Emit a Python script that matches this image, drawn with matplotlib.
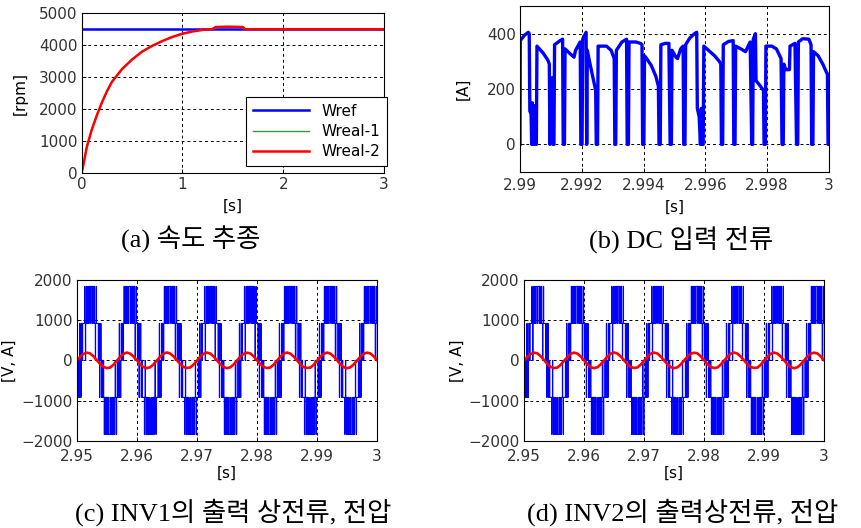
import numpy as np
import matplotlib.pyplot as plt

plt.rcParams['font.family'] = 'DejaVu Sans'

# ------------------------------------------------------------
# (a) speed tracking
# ------------------------------------------------------------
speed_t = [0, 0.02, 0.05, 0.1, 0.15, 0.2, 0.25, 0.3, 0.35, 0.4, 0.5, 0.6, 0.7,
           0.8, 0.9, 1.0, 1.1, 1.2, 1.3, 1.33, 1.45, 1.6, 1.62, 3.0]
speed_real = [0, 300, 800, 1350, 1800, 2200, 2550, 2850, 3050, 3250, 3550, 3800,
              3980, 4130, 4260, 4360, 4430, 4480, 4510, 4570, 4580, 4570, 4500, 4500]
ref_t = [0, 3]
speed_ref = [4500, 4500]

# ------------------------------------------------------------
# (b) DC input current, time in ms after 2.99 s
# ------------------------------------------------------------
dc_ms = [0.00, 0.01, 0.15, 0.27, 0.30, 0.32, 0.36, 0.38, 0.40, 0.43, 0.46, 0.50,
         0.53, 0.55, 0.75, 0.90, 0.95, 0.97, 1.00, 1.05, 1.07, 1.10, 1.12, 1.30,
         1.38, 1.40, 1.44, 1.46, 1.60, 1.75, 1.80, 1.95, 1.97, 2.01, 2.03, 2.14,
         2.16, 2.18, 2.25, 2.40, 2.45, 2.47, 2.51, 2.53, 2.80, 2.95, 3.05, 3.07,
         3.10, 3.12, 3.30, 3.45, 3.47, 3.51, 3.53, 3.75, 3.90, 3.95, 3.97, 4.01,
         4.03, 4.10, 4.25, 4.40, 4.48, 4.50, 4.54, 4.56, 4.70, 4.82, 4.86, 4.90,
         4.92, 5.05, 5.10, 5.20, 5.28, 5.30, 5.34, 5.36, 5.50, 5.65, 5.72, 5.74,
         5.80, 5.84, 5.87, 5.90, 5.93, 5.95, 6.10, 6.30, 6.45, 6.50, 6.52, 6.56,
         6.58, 6.75, 6.90, 6.92, 6.96, 6.98, 7.15, 7.30, 7.45, 7.50, 7.53, 7.55,
         7.62, 7.64, 7.75, 7.88, 7.90, 7.94, 7.96, 8.15, 8.30, 8.45, 8.48, 8.52,
         8.54, 8.60, 8.72, 8.74, 8.90, 8.95, 8.99, 9.01, 9.15, 9.35, 9.42, 9.44,
         9.48, 9.50, 9.65, 9.80, 9.92, 9.95, 9.97, 10.0]
dc_amp = [0, 375, 395, 405, 400, 120, 110, 0, 150, 0, 140, 0,
          0, 355, 330, 305, 290, 0, 240, 240, 0, 0, 360, 375,
          380, 0, 0, 345, 330, 315, 340, 370, 0, 0, 380, 405,
          0, 340, 300, 220, 195, 0, 0, 355, 355, 340, 310, 0,
          0, 340, 370, 380, 0, 0, 370, 370, 365, 360, 0, 0,
          320, 310, 285, 245, 210, 0, 0, 360, 365, 365, 0, 0,
          340, 315, 310, 345, 355, 0, 0, 360, 385, 400, 405, 130,
          100, 0, 130, 0, 0, 355, 340, 320, 300, 290, 0, 0,
          360, 372, 375, 0, 0, 355, 345, 335, 370, 0, 0, 380,
          400, 230, 215, 195, 0, 0, 355, 355, 345, 310, 0, 0,
          290, 270, 270, 355, 365, 0, 0, 370, 382, 380, 360, 0,
          0, 335, 320, 290, 260, 255, 0, 0]

# ------------------------------------------------------------
# (c), (d) inverter phase current and line voltage
# ------------------------------------------------------------
cur_t = np.linspace(2.95, 3.0, 91)
phase_cur = [-10, 88, 162, 193, 175, 105, 10, -88, -160, -190, -178, -108,
             -12, 85, 163, 196, 170, 100, 5, -93, -168, -192, -170, -100,
             -5, 93, 168, 198, 172, 102, 8, -90, -163, -188, -175, -105,
             -10, 90, 166, 195, 173, 100, 6, -92, -165, -193, -172, -102,
             -6, 92, 165, 192, 176, 104, 9, -89, -162, -190, -176, -106,
             -9, 89, 167, 197, 170, 99, 4, -94, -166, -185, -180, -110,
             -11, 87, 164, 196, 171, 101, 7, -91, -167, -194, -171, -101,
             -4, 94, 166, 194, 174, 103, 8]

# centres of the voltage half-cycles and their polarity
half_centers = [2.94900, 2.95230, 2.95560, 2.95890, 2.96225, 2.96560, 2.96895, 2.97225,
                2.97560, 2.97890, 2.98225, 2.98560, 2.98890, 2.99225, 2.99560, 2.99890]
half_signs = [-1, 1, -1, 1, -1, 1, -1, 1, -1, 1, -1, 1, -1, 1, -1, 1]
# which switching pattern each half-cycle shows, INV1 and INV2
half_pattern_1 = [0, 0, 1, 1, 0, 1, 0, 0, 1, 0, 1, 1, 0, 1, 0, 1]
half_pattern_2 = [1, 0, 0, 1, 1, 0, 1, 0, 0, 1, 1, 0, 1, 0, 1, 1]

# switching patterns of one half-cycle: offset from centre [ms], level step
pulse_ms_a = [-1.665, -1.62, -1.58, -1.52, -1.35, -1.31, -0.98, -0.94, -0.85, -0.81,
              -0.70, -0.64, -0.48, -0.40, -0.30, -0.08, -0.04, 0.22, 0.30, 0.45,
              0.60, 0.66, 0.80, 0.84, 0.94, 0.98, 1.30, 1.34, 1.45, 1.50,
              1.55, 1.60, 1.63]
pulse_lv_a = [0, -1, 0, 1, 0, 1, 2, 1, 0, 1,
              2, 1, 2, 1, 2, 1, 2, 1, 2, 1,
              2, 1, 0, 1, 2, 1, 0, 1, 0, -1,
              0, 1, 0]
pulse_ms_b = [-1.665, -1.60, -1.56, -1.48, -1.40, -1.36, -1.15, -1.11, -1.02, -0.97,
              -0.78, -0.72, -0.55, -0.50, -0.38, -0.32, -0.22, 0.05, 0.10, 0.30,
              0.36, 0.52, 0.58, 0.75, 0.80, 0.90, 1.00, 1.04, 1.25, 1.29,
              1.42, 1.48, 1.53, 1.58, 1.62]
pulse_lv_b = [0, -1, 0, 1, 0, 1, 0, 1, 2, 1,
              2, 1, 2, 1, 2, 1, 2, 1, 2, 1,
              2, 1, 2, 1, 0, 1, 2, 1, 0, 1,
              0, -1, 0, 1, 0]
patterns = [(pulse_ms_a, pulse_lv_a), (pulse_ms_b, pulse_lv_b)]
level_step = 920


def voltage_steps(which):
    tt, vv = [], []
    for c, s, p in zip(half_centers, half_signs, which):
        offs, lvs = patterns[p]
        for off, lv in zip(offs, lvs):
            tt.append(c + off / 1000)
            vv.append(s * lv * level_step)
    return tt, vv


# ------------------------------------------------------------
# Figure
# ------------------------------------------------------------
fig = plt.figure(figsize=(8.61, 5.28), dpi=100)

ax_a = fig.add_axes([0.0949, 0.6729, 0.3511, 0.3019])
ax_b = fig.add_axes([0.6039, 0.6742, 0.3589, 0.3144])
ax_c = fig.add_axes([0.0891, 0.1650, 0.3488, 0.3047])
ax_d = fig.add_axes([0.6086, 0.1650, 0.3484, 0.3047])


def style(ax):
    for sp in ax.spines.values():
        sp.set_linewidth(0.8)
        sp.set_color('black')
    ax.tick_params(direction='in', length=3, width=0.6, labelsize=11,
                   labelcolor='#333333', pad=3)
    ax.grid(True, color='black', linestyle=(0, (3, 3)), linewidth=0.7)


# (a)
ax_a.plot(ref_t, speed_ref, color='#0000ff', linewidth=1.8, label='Wref')
ax_a.plot(speed_t, speed_real, color='#3a9a3a', linewidth=1.0, label='Wreal-1')
ax_a.plot(speed_t, speed_real, color='#ff0000', linewidth=1.8, label='Wreal-2')
ax_a.set_xlim(0, 3)
ax_a.set_ylim(0, 5000)
ax_a.set_xticks([0, 1, 2, 3])
ax_a.set_xticklabels(['0', '1', '2', '3'])
ax_a.set_yticks([0, 1000, 2000, 3000, 4000, 5000])
style(ax_a)
ax_a.set_xlabel('[s]', fontsize=11, labelpad=5)
ax_a.set_ylabel('[rpm]', fontsize=11, labelpad=8)
leg = ax_a.legend(loc='lower right', bbox_to_anchor=(1.01, 0.04), fontsize=11,
                  fancybox=False, edgecolor='black', framealpha=1,
                  handlelength=3.7, borderpad=0.45, labelspacing=0.35,
                  borderaxespad=0)
leg.get_frame().set_linewidth(0.8)

# (b)
dc_t = [2.99 + m / 1000 for m in dc_ms]
ax_b.plot(dc_t, dc_amp, color='#0000ff', linewidth=2.4)
ax_b.set_xlim(2.99, 3.0)
ax_b.set_ylim(-100, 500)
ax_b.set_xticks([2.99, 2.992, 2.994, 2.996, 2.998, 3.0])
ax_b.set_xticklabels(['2.99', '2.992', '2.994', '2.996', '2.998', '3'])
ax_b.set_yticks([0, 200, 400])
style(ax_b)
ax_b.tick_params(axis='x', pad=4)
ax_b.set_xlabel('[s]', fontsize=11, labelpad=5)
ax_b.set_ylabel('[A]', fontsize=11, labelpad=12)

# (c), (d)
for ax, which in ((ax_c, half_pattern_1), (ax_d, half_pattern_2)):
    vt, vv = voltage_steps(which)
    ax.step(vt, vv, where='post', color='#0000ff', linewidth=0.8)
    ax.plot(cur_t, phase_cur, color='#ff0000', linewidth=1.9)
    ax.set_xlim(2.95, 3.0)
    ax.set_ylim(-2000, 2000)
    ax.set_xticks([2.95, 2.96, 2.97, 2.98, 2.99, 3.0])
    ax.set_xticklabels(['2.95', '2.96', '2.97', '2.98', '2.99', '3'])
    ax.set_yticks([-2000, -1000, 0, 1000, 2000])
    style(ax)
    ax.tick_params(axis='x', pad=6)
    ax.set_xlabel('[s]', fontsize=11, labelpad=1)
    ax.set_ylabel('[V, A]', fontsize=11, labelpad=3)

# captions
cap_font = ['Liberation Serif', 'Noto Sans CJK KR']
fig.text(191 / 861, 1 - 239 / 528, '(a) 속도 추종', family=cap_font,
         fontsize=19, ha='center', va='center')
fig.text(681 / 861, 1 - 239 / 528, '(b) DC 입력 전류', family=cap_font,
         fontsize=19, ha='center', va='center')
fig.text(233 / 861, 1 - 512 / 528, '(c) INV1의 출력 상전류, 전압', family=cap_font,
         fontsize=19, ha='center', va='center')
fig.text(683 / 861, 1 - 512 / 528, '(d) INV2의 출력상전류, 전압', family=cap_font,
         fontsize=19, ha='center', va='center')

fig.savefig('out.png', dpi=100)
